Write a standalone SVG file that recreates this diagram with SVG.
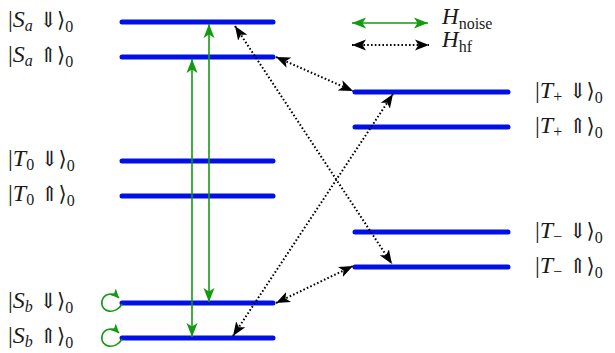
<svg xmlns="http://www.w3.org/2000/svg" width="615" height="353" viewBox="0 0 615 353">
<style>
.lvl{stroke:#0010e6;stroke-width:5;stroke-linecap:round;fill:none}
.noise{stroke:#139a13;stroke-width:1.6;fill:none}
.hf{stroke:#000;stroke-width:2;stroke-dasharray:1.6 2.2;fill:none}
text{font-family:"Liberation Serif","DejaVu Serif",serif;font-size:24px;fill:#1a1a1a}
.it{font-style:italic}
.sub{font-size:16px}
.sym{font-family:"DejaVu Serif","DejaVu Sans",serif;font-size:21px}
.lg{font-size:23px}
</style>
<defs>
<marker id="ag" markerUnits="userSpaceOnUse" markerWidth="16" markerHeight="13" refX="14" refY="5.5" orient="auto-start-reverse" viewBox="0 0 16 11">
<path d="M0,0 L14,5.5 L0,11 L3.5,5.5 z" fill="#139a13"/>
</marker>
<marker id="ak" markerUnits="userSpaceOnUse" markerWidth="16" markerHeight="13" refX="14" refY="5.5" orient="auto-start-reverse" viewBox="0 0 16 11">
<path d="M0,0 L14,5.5 L0,11 L3.5,5.5 z" fill="#000"/>
</marker>
<marker id="ags" markerUnits="userSpaceOnUse" markerWidth="11" markerHeight="10" refX="9" refY="4.5" orient="auto" viewBox="0 0 11 9">
<path d="M0,0 L9,4.5 L0,9 L2.2,4.5 z" fill="#139a13"/>
</marker>
</defs>

<g id="levels">
<g id="Sa_down"><line class="lvl" x1="122" y1="22" x2="273" y2="22"/><text x="8" y="27">|<tspan class="it">S</tspan><tspan class="it sub" dy="4">a</tspan><tspan class="sym" dy="-4"> ⇓⟩</tspan><tspan class="sub" dy="5">0</tspan></text></g>
<g id="Sa_up"><line class="lvl" x1="122" y1="57" x2="273" y2="57"/><text x="8" y="62">|<tspan class="it">S</tspan><tspan class="it sub" dy="4">a</tspan><tspan class="sym" dy="-4"> ⇑⟩</tspan><tspan class="sub" dy="5">0</tspan></text></g>
<g id="T0_down"><line class="lvl" x1="122" y1="161" x2="273" y2="161"/><text x="8" y="166">|<tspan class="it">T</tspan><tspan class="sub" dy="4">0</tspan><tspan class="sym" dy="-4"> ⇓⟩</tspan><tspan class="sub" dy="5">0</tspan></text></g>
<g id="T0_up"><line class="lvl" x1="122" y1="196" x2="273" y2="196"/><text x="8" y="201">|<tspan class="it">T</tspan><tspan class="sub" dy="4">0</tspan><tspan class="sym" dy="-4"> ⇑⟩</tspan><tspan class="sub" dy="5">0</tspan></text></g>
<g id="Sb_down"><line class="lvl" x1="122" y1="303" x2="273" y2="303"/><text x="8" y="308">|<tspan class="it">S</tspan><tspan class="it sub" dy="4">b</tspan><tspan class="sym" dy="-4"> ⇓⟩</tspan><tspan class="sub" dy="5">0</tspan></text></g>
<g id="Sb_up"><line class="lvl" x1="122" y1="338" x2="273" y2="338"/><text x="8" y="343">|<tspan class="it">S</tspan><tspan class="it sub" dy="4">b</tspan><tspan class="sym" dy="-4"> ⇑⟩</tspan><tspan class="sub" dy="5">0</tspan></text></g>
<g id="Tp_down"><line class="lvl" x1="355" y1="92" x2="508" y2="92"/><text x="535" y="98">|<tspan class="it">T</tspan><tspan class="sub" dy="4">+</tspan><tspan class="sym" dy="-4"> ⇓⟩</tspan><tspan class="sub" dy="5">0</tspan></text></g>
<g id="Tp_up"><line class="lvl" x1="355" y1="127" x2="508" y2="127"/><text x="535" y="133">|<tspan class="it">T</tspan><tspan class="sub" dy="4">+</tspan><tspan class="sym" dy="-4"> ⇑⟩</tspan><tspan class="sub" dy="5">0</tspan></text></g>
<g id="Tm_down"><line class="lvl" x1="355" y1="232" x2="508" y2="232"/><text x="535" y="238">|<tspan class="it">T</tspan><tspan class="sub" dy="4">−</tspan><tspan class="sym" dy="-4"> ⇓⟩</tspan><tspan class="sub" dy="5">0</tspan></text></g>
<g id="Tm_up"><line class="lvl" x1="355" y1="267" x2="508" y2="267"/><text x="535" y="273">|<tspan class="it">T</tspan><tspan class="sub" dy="4">−</tspan><tspan class="sym" dy="-4"> ⇑⟩</tspan><tspan class="sub" dy="5">0</tspan></text></g>
</g>

<g id="connectors">
<line class="noise" x1="192" y1="337" x2="192" y2="59" marker-start="url(#ag)" marker-end="url(#ag)"/>
<line class="noise" x1="209" y1="302" x2="209" y2="24" marker-start="url(#ag)" marker-end="url(#ag)"/>
<path class="noise" d="M122 304 C116 315,100 313,102 301 C104 293,113 292,119 298" marker-end="url(#ags)"/>
<path class="noise" d="M122 339 C116 350,100 348,102 336 C104 328,113 327,119 333" marker-end="url(#ags)"/>
<line class="hf" x1="235" y1="26" x2="392" y2="264" marker-start="url(#ak)" marker-end="url(#ak)"/>
<line class="hf" x1="276" y1="57" x2="353" y2="91" marker-start="url(#ak)" marker-end="url(#ak)"/>
<line class="hf" x1="233" y1="336" x2="393" y2="94" marker-start="url(#ak)" marker-end="url(#ak)"/>
<line class="hf" x1="276" y1="303" x2="353" y2="266" marker-start="url(#ak)" marker-end="url(#ak)"/>
</g>

<g id="legend">
<line class="noise" x1="352" y1="23" x2="428" y2="23" marker-start="url(#ag)" marker-end="url(#ag)"/>
<text class="lg" x="442" y="24"><tspan class="it">H</tspan><tspan class="sub" dy="5">noise</tspan></text>
<line class="hf" x1="352" y1="45" x2="429" y2="45" marker-start="url(#ak)" marker-end="url(#ak)"/>
<text class="lg" x="442" y="47"><tspan class="it">H</tspan><tspan class="sub" dy="5">hf</tspan></text>
</g>
</svg>
